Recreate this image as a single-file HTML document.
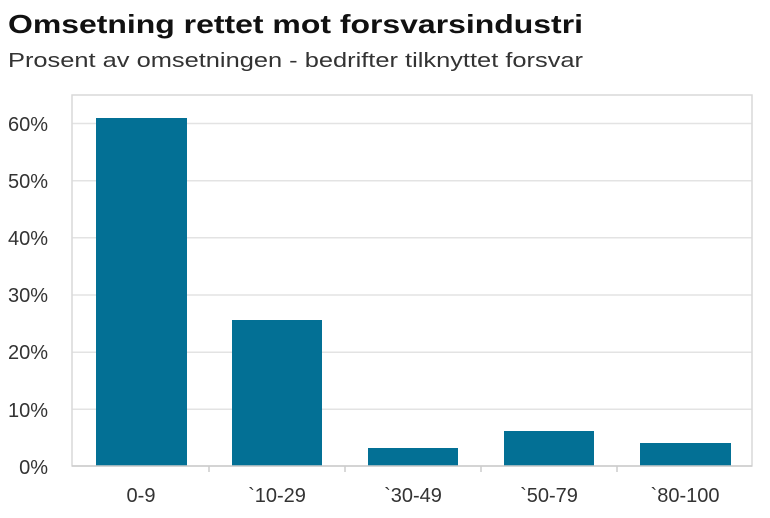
<!DOCTYPE html>
<html><head><meta charset="utf-8"><style>html,body{margin:0;padding:0;background:#fff}</style></head>
<body>
<svg width="770" height="513" xmlns="http://www.w3.org/2000/svg" font-family="Liberation Sans, sans-serif">
<rect width="770" height="513" fill="#fff"/>
<text x="8" y="33" font-size="26" font-weight="bold" fill="#111" textLength="575" lengthAdjust="spacingAndGlyphs">Omsetning rettet mot forsvarsindustri</text>
<text x="8" y="67" font-size="20" fill="#333" textLength="575" lengthAdjust="spacingAndGlyphs">Prosent av omsetningen - bedrifter tilknyttet forsvar</text>
<g stroke="#e3e3e3" stroke-width="1.5">
<line x1="72" y1="123.5" x2="752" y2="123.5"/>
<line x1="72" y1="180.7" x2="752" y2="180.7"/>
<line x1="72" y1="237.8" x2="752" y2="237.8"/>
<line x1="72" y1="295" x2="752" y2="295"/>
<line x1="72" y1="352.2" x2="752" y2="352.2"/>
<line x1="72" y1="409.3" x2="752" y2="409.3"/>
</g>
<rect x="72" y="95" width="680" height="371" fill="none" stroke="#d9d9d9" stroke-width="1.5"/>
<g fill="#037095">
<rect x="96" y="118" width="91" height="348"/>
<rect x="232" y="320" width="90" height="146"/>
<rect x="368" y="448" width="90" height="18"/>
<rect x="504" y="431" width="90" height="35"/>
<rect x="640" y="443" width="91" height="23"/>
</g>
<g stroke="#ccc" stroke-width="1.5">
<line x1="72" y1="466" x2="752" y2="466"/>
<line x1="209" y1="466" x2="209" y2="472"/>
<line x1="345" y1="466" x2="345" y2="472"/>
<line x1="481" y1="466" x2="481" y2="472"/>
<line x1="617" y1="466" x2="617" y2="472"/>
</g>
<g font-size="20" fill="#333" text-anchor="end">
<text x="48" y="131">60%</text>
<text x="48" y="188">50%</text>
<text x="48" y="245">40%</text>
<text x="48" y="302">30%</text>
<text x="48" y="359">20%</text>
<text x="48" y="417">10%</text>
<text x="48" y="474">0%</text>
</g>
<g font-size="20" fill="#333" text-anchor="middle">
<text x="141" y="502">0-9</text>
<text x="277" y="502">`10-29</text>
<text x="413" y="502">`30-49</text>
<text x="549" y="502">`50-79</text>
<text x="685" y="502">`80-100</text>
</g>
</svg>
</body></html>
